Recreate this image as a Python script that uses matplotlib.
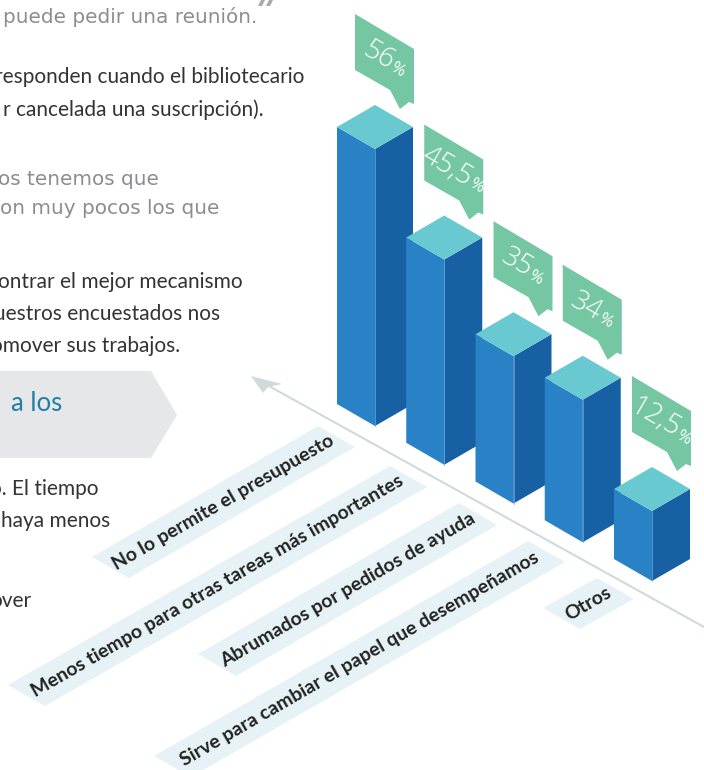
#!/usr/bin/env python3
# coding: utf-8

"""Isometric bar chart with the clipped article column beside it."""

import numpy as np
import matplotlib
matplotlib.use("Agg")
import matplotlib.pyplot as plt
from matplotlib.patches import Polygon

# chart data
categories = ["No lo permite el presupuesto",
              "Menos tiempo para otras tareas más importantes",
              "Abrumados por pedidos de ayuda",
              "Sirve para cambiar el papel que desempeñamos",
              "Otros"]
percentages = [56, 45.5, 35, 34, 12.5]
percent_labels = ["56", "45,5", "35", "34", "12,5"]

# body text around the chart, ends of lines only
grey_lines = ["puede pedir una reunión.", "os tenemos que", "on muy pocos los que"]
dark_lines = ["responden cuando el bibliotecario", "r cancelada una suscripción).",
              "ontrar el mejor mecanismo", "uestros encuestados nos",
              "omover sus trabajos.", "o. El tiempo", "haya menos", "over"]
heading = "a los"

BLUE_LEFT = "#2A82C6"
BLUE_RIGHT = "#1760A3"
BLUE_TOP = "#69C9D0"
GREEN = "#74C7A2"
BAND = "#E6F2F6"
AXIS_GREY = "#CFDADA"

ISO_X, ISO_Y = 38, 22
ANGLE = np.radians(30)
FONT = ["Lato", "DejaVu Sans"]
LIGHT_FONT = ["Open Sans", "DejaVu Sans"]


def bar_height(value):
    """Height of a bar in pixels, the scale bends a little towards the top."""
    return 70 + 4.759 * (value - 12.5) + 0.063 * (value - 12.5) * (value - 56)


def poly(ax, points, color, zorder=2):
    ax.add_patch(Polygon(points, closed=True, fc=color, ec="none", zorder=zorder))


def draw_bar(ax, cx, base, value):
    """Three faces of one bar, cx and base locate the front bottom corner."""
    top = base - bar_height(value)
    poly(ax, [(cx - ISO_X, top - ISO_Y), (cx, top), (cx, base), (cx - ISO_X, base - ISO_Y)], BLUE_LEFT)
    poly(ax, [(cx + ISO_X, top - ISO_Y), (cx, top), (cx, base), (cx + ISO_X, base - ISO_Y)], BLUE_RIGHT)
    poly(ax, [(cx - ISO_X, top - ISO_Y), (cx, top - 2 * ISO_Y), (cx + ISO_X, top - ISO_Y), (cx, top)], BLUE_TOP)
    ax.plot([cx, cx], [top, base], color="#6FA5D6", lw=0.5, zorder=2)
    return top - 2 * ISO_Y


def draw_callout(fig, ax, apex_x, apex_y, number):
    """Green speech bubble sheared along the bars, sitting above the apex."""
    x0, y0 = apex_x - 20, apex_y - 91
    shape = [(0, 0), (59, 35), (59, 90), (54, 88), (45, 95), (35, 76), (0, 56)]
    poly(ax, [(x0 + dx, y0 + dy) for dx, dy in shape], GREEN)

    renderer = fig.canvas.get_renderer()
    big = ax.text(0, 0, number, fontsize=20, color="white", family=LIGHT_FONT, fontweight=300,
                  rotation=0, rotation_mode="anchor", ha="left", va="baseline", zorder=3)
    small = ax.text(0, 0, "%", fontsize=12, color="white", family=LIGHT_FONT, fontweight=400,
                    rotation=0, rotation_mode="anchor", ha="left", va="baseline", zorder=3)
    w_big = big.get_window_extent(renderer).width
    w_small = small.get_window_extent(renderer).width
    total = w_big + w_small + 1

    # centre of the label, then back up along the slant to its baseline start
    cx, cy = x0 + 30.5, y0 + 44
    cx += -np.sin(ANGLE) * 9
    cy += np.cos(ANGLE) * 9
    sx = cx - np.cos(ANGLE) * total / 2
    sy = cy - np.sin(ANGLE) * total / 2
    big.set_position((sx, sy))
    big.set_rotation(-30)
    small.set_position((sx + np.cos(ANGLE) * (w_big + 1), sy + np.sin(ANGLE) * (w_big + 1)))
    small.set_rotation(-30)


def draw_band(ax, left, top, right, text):
    """Pale parallelogram with its category written along it."""
    bottom = (left[0] + right[0] - top[0], left[1] + right[1] - top[1])
    poly(ax, [left, top, right, bottom], BAND, zorder=1)
    ax.text((left[0] + right[0]) / 2, (left[1] + right[1]) / 2, text, rotation=30,
            rotation_mode="anchor", ha="center", va="center", fontsize=14,
            fontweight="bold", color="#222222", family=FONT, zorder=3)


fig = plt.figure(figsize=(7.04, 7.70), dpi=100)
ax = fig.add_axes([0, 0, 1, 1])
ax.set_xlim(0, 704)
ax.set_ylim(770, 0)
ax.axis("off")

# axis arrow running under the bars
ax.plot([268, 704], [385.5, 627], color=AXIS_GREY, lw=1.5, zorder=1)
poly(ax, [(251, 376), (282, 384), (268, 387), (263, 393)], AXIS_GREY, zorder=1)

for i, value in enumerate(percentages):
    cx = 375 + 69.25 * i
    base = 426 + 0.5596 * (cx - 375)
    apex = draw_bar(ax, cx, base, value)
    draw_callout(fig, ax, cx, apex, percent_labels[i])

draw_band(ax, (92, 557), (318, 426), (355, 447), categories[0])
draw_band(ax, (8, 685), (390, 466), (427, 487), categories[1])
draw_band(ax, (198, 654), (459, 503), (497, 525), categories[2])
draw_band(ax, (154, 756), (528, 541), (565, 562), categories[3])
draw_band(ax, (543, 608), (597, 578), (634, 599), categories[4])

# heading box with a pointed end
poly(ax, [(0, 371), (151, 371), (177, 415), (151, 458), (0, 458)], "#E5E7E9", zorder=1)
ax.text(62, 411, heading, ha="right", va="baseline", fontsize=18.5, color="#1F7FA8",
        family=FONT, fontweight="regular")

# closing quote mark cut by the top edge
poly(ax, [(258, 6), (261, 0), (265, 0), (262, 6)], "#A7A9AC")
poly(ax, [(266, 6), (269, 0), (273, 0), (270, 6)], "#A7A9AC")

for line, right, y in zip(grey_lines, [257, 159, 219], [23, 185, 214]):
    ax.text(right, y, line, ha="right", va="baseline", fontsize=14.4, color="#8A8C8F",
            family=["DejaVu Sans"])

for line, right, y in zip(dark_lines, [304, 264, 243, 220, 180, 99, 110, 31],
                          [83, 116, 288, 320, 352, 495, 527, 607]):
    ax.text(right, y, line, ha="right", va="baseline", fontsize=15, color="#333333",
            family=FONT)

fig.savefig("out.png", dpi=100)
